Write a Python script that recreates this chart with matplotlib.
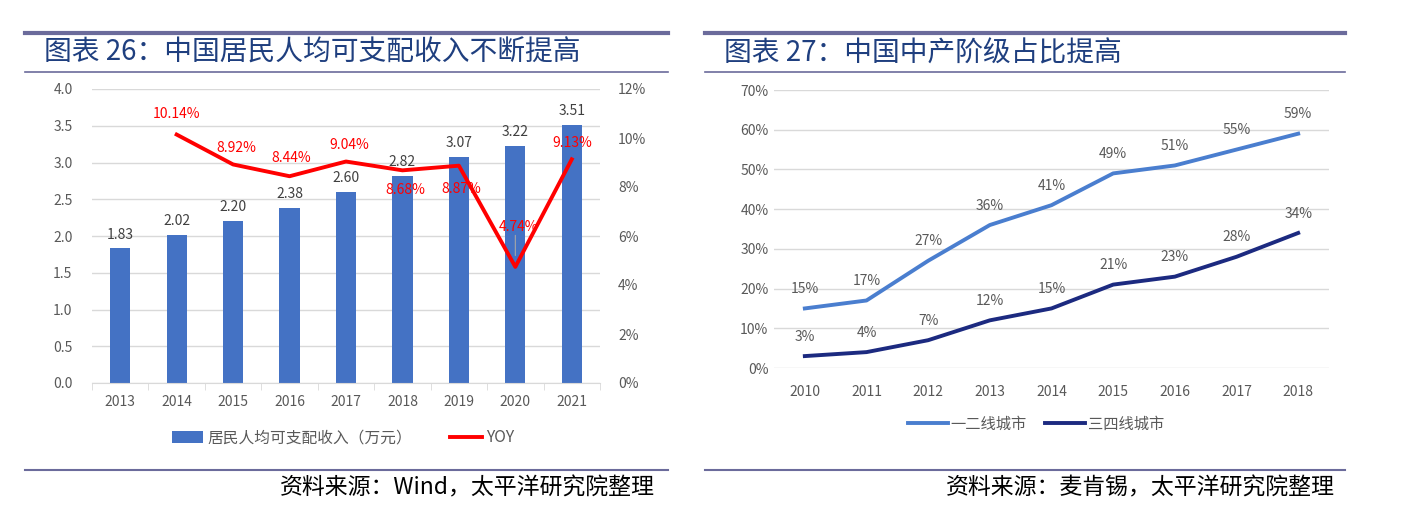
import matplotlib
matplotlib.use("Agg")
import matplotlib.pyplot as plt
from matplotlib.lines import Line2D
from matplotlib.ticker import FuncFormatter, MultipleLocator

plt.rcParams['font.family'] = ['Noto Sans CJK SC', 'DejaVu Sans']

# ---- data: chart 26 ----
years_inc = ['2013', '2014', '2015', '2016', '2017', '2018', '2019', '2020', '2021']
income = [1.83, 2.02, 2.20, 2.38, 2.60, 2.82, 3.07, 3.22, 3.51]
yoy = [None, 10.14, 8.92, 8.44, 9.04, 8.68, 8.87, 4.74, 9.13]

# ---- data: chart 27 ----
years_mid = ['2010', '2011', '2012', '2013', '2014', '2015', '2016', '2017', '2018']
tier12 = [15, 17, 27, 36, 41, 49, 51, 55, 59]
tier34 = [3, 4, 7, 12, 15, 21, 23, 28, 34]

W, H = 1417, 525
fig = plt.figure(figsize=(W / 100, H / 100), dpi=100)
fig.patch.set_facecolor('white')

RULE = '#6B6B9B'
TITLE_C = '#1F3F7F'
GRAY = '#595959'
GRID = '#D9D9D9'


def px(x0, y0, x1, y1):
    # pixel box (top-left origin) -> figure rect
    return [x0 / W, 1 - y1 / H, (x1 - x0) / W, (y1 - y0) / H]


def hline(x0, x1, y, lw):
    fig.add_artist(Line2D([x0 / W, x1 / W], [1 - y / H, 1 - y / H],
                          color=RULE, lw=lw, transform=fig.transFigure))


# frame rules and titles
for x0, x1 in [(25, 668), (705, 1345)]:
    hline(x0, x1, 33, 3.0)
    hline(x0, x1, 72, 1.2)
    hline(x0, x1, 470, 1.5)

fig.text(44 / W, 1 - 53 / H, '图表 26：中国居民人均可支配收入不断提高',
         fontsize=20, color=TITLE_C, va='center', ha='left')
fig.text(724 / W, 1 - 53 / H, '图表 27：中国中产阶级占比提高',
         fontsize=20, color=TITLE_C, va='center', ha='left')
fig.text(655 / W, 1 - 488 / H, '资料来源：Wind，太平洋研究院整理',
         fontsize=16.5, color='black', va='center', ha='right')
fig.text(1335 / W, 1 - 488 / H, '资料来源：麦肯锡，太平洋研究院整理',
         fontsize=16.5, color='black', va='center', ha='right')

# ---- left chart ----
ax = fig.add_axes(px(92, 89, 600, 383))
xs = list(range(len(years_inc)))
ax.bar(xs, income, width=0.36, color='#4472C4', label='居民人均可支配收入（万元）', zorder=2)
ax.set_xlim(-0.5, len(xs) - 0.5)
ax.set_ylim(0, 4.0)
ax.yaxis.set_major_locator(MultipleLocator(0.5))
ax.yaxis.set_major_formatter(FuncFormatter(lambda v, p: f'{v:.1f}'))
ax.grid(axis='y', color=GRID, lw=1, zorder=0)
ax.set_xticks(xs)
ax.set_xticklabels(years_inc)
ax.set_xticks([i - 0.5 for i in range(len(xs) + 1)], minor=True)
ax.tick_params(axis='x', which='major', length=0, pad=9, labelsize=10, labelcolor=GRAY)
ax.tick_params(axis='x', which='minor', length=5, color=GRID, direction='out')
ax.tick_params(axis='y', length=0, pad=14, labelsize=10, labelcolor=GRAY)
for s in ['top', 'right', 'left']:
    ax.spines[s].set_visible(False)
ax.spines['bottom'].set_color(GRID)
for x, v in zip(xs, income):
    ax.annotate(f'{v:.2f}', (x, v), xytext=(0, 5), textcoords='offset points',
                ha='center', va='bottom', fontsize=10, color='#404040')

ax2 = ax.twinx()
yx = [x for x, v in zip(xs, yoy) if v is not None]
yv = [v for v in yoy if v is not None]
ax2.plot(yx, yv, color='#FF0000', lw=2.8, label='YOY', zorder=3)
ax2.set_ylim(0, 12)
ax2.yaxis.set_major_locator(MultipleLocator(2))
ax2.yaxis.set_major_formatter(FuncFormatter(lambda v, p: f'{v:.0f}%'))
ax2.tick_params(axis='y', length=0, pad=13, labelsize=10, labelcolor=GRAY)
for s in ax2.spines.values():
    s.set_visible(False)
# label offsets (points) per YOY point
offs = {1: (0, 15), 2: (2, 12), 3: (1, 13), 4: (2, 12), 5: (2, -14), 6: (2, -17), 7: (2, 29), 8: (0, 12)}
for x, v in zip(yx, yv):
    dx, dy = offs[x]
    ax2.annotate(f'{v:.2f}%', (x, v), xytext=(dx, dy), textcoords='offset points',
                 ha='center', va='center', fontsize=10, color='#FF0000', zorder=4)
ax2.annotate('', (7, 4.74 + 0.35), xytext=(7, 4.74 + 1.4),
             arrowprops=dict(arrowstyle='-', color='#A6A6A6', lw=0.8))

h1, l1 = ax.get_legend_handles_labels()
h2, l2 = ax2.get_legend_handles_labels()
fig.legend(h1 + h2, l1 + l2, loc='center', bbox_to_anchor=(343 / W, 1 - 438 / H),
           ncol=2, frameon=False, fontsize=11.3, labelcolor=GRAY,
           handlelength=2.0, handleheight=0.8, columnspacing=2.4, handletextpad=0.3)

# ---- right chart ----
bx = fig.add_axes(px(774, 90, 1329, 368))
xm = list(range(len(years_mid)))
bx.plot(xm, tier12, color='#4A7ECF', lw=2.8, label='一二线城市', zorder=3)
bx.plot(xm, tier34, color='#1C2A80', lw=2.8, label='三四线城市', zorder=3)
bx.set_xlim(-0.5, len(xm) - 0.5)
bx.set_ylim(0, 70)
bx.yaxis.set_major_locator(MultipleLocator(10))
bx.yaxis.set_major_formatter(FuncFormatter(lambda v, p: f'{v:.0f}%'))
bx.grid(axis='y', color=GRID, lw=1, zorder=0)
bx.set_xticks(xm)
bx.set_xticklabels(years_mid)
bx.tick_params(axis='x', length=0, pad=12, labelsize=10, labelcolor=GRAY)
bx.tick_params(axis='y', length=0, pad=4, labelsize=10, labelcolor=GRAY)
for s in bx.spines.values():
    s.set_visible(False)
for series in (tier12, tier34):
    for x, v in zip(xm, series):
        bx.annotate(f'{v}%', (x, v), xytext=(0, 14), textcoords='offset points',
                    ha='center', va='center', fontsize=10, color=GRAY)

bx.legend(loc='center', bbox_to_anchor=(1036 / W, 1 - 424 / H),
          bbox_transform=fig.transFigure, ncol=2, frameon=False, fontsize=11,
          labelcolor=GRAY, handlelength=2.6, columnspacing=1.2, handletextpad=0.2)

fig.savefig('out.png', dpi=100, facecolor='white')
